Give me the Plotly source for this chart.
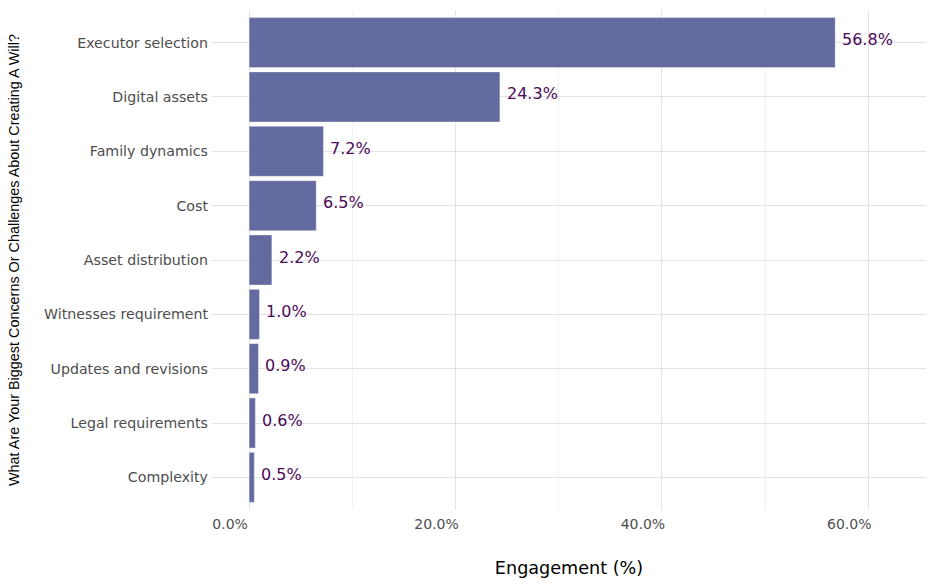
import plotly.graph_objects as go

categories = ["Executor selection", "Digital assets", "Family dynamics", "Cost",
              "Asset distribution", "Witnesses requirement", "Updates and revisions",
              "Legal requirements", "Complexity"]
values = [56.8, 24.3, 7.2, 6.5, 2.2, 1.0, 0.9, 0.6, 0.5]
x_ticks = [0, 20, 40, 60]
x_tick_labels = ["0.0%", "20.0%", "40.0%", "60.0%"]
y_title = "What Are Your Biggest Concerns Or Challenges About Creating A Will?"

FONT = "DejaVu Sans"

fig = go.Figure(go.Bar(
    y=categories,
    x=values,
    orientation="h",
    width=0.92,
    marker=dict(color="#636A9F", line=dict(color="rgba(255,255,255,0.35)", width=1)),
    hoverinfo="x+y",
))

for cat, v in zip(categories, values):
    fig.add_annotation(
        x=v, y=cat, text=f"{v:.1f}%", showarrow=False,
        xanchor="left", yanchor="middle", xshift=5, yshift=3,
        font=dict(family=FONT, size=16, color="#4B0A5A"),
    )

# y-axis title, placed at the left edge of the figure
fig.add_annotation(
    text=y_title, xref="paper", yref="paper", x=-0.2773, y=0.5,
    xanchor="center", yanchor="middle", textangle=-90, showarrow=False,
    font=dict(family="Liberation Sans", size=14.4, color="black"),
)

fig.update_layout(
    width=936, height=586,
    margin=dict(l=212, r=10, t=10, b=76),
    plot_bgcolor="white", paper_bgcolor="white",
    font=dict(family=FONT),
    showlegend=False,
    xaxis=dict(
        range=[-3.6, 65.6],
        tickvals=x_ticks, ticktext=x_tick_labels,
        ticklabelshift=-19, ticklabelstandoff=4,
        tickfont=dict(family=FONT, size=14, color="#4d4d4d"),
        showgrid=True, gridcolor="#e3e3e3", gridwidth=1,
        minor=dict(dtick=10, tick0=0, showgrid=True, gridcolor="#f2f2f2", gridwidth=1),
        zeroline=False, showline=False, ticks="",
        title=dict(text="Engagement (%)", font=dict(family=FONT, size=17.6, color="black"), standoff=30),
    ),
    yaxis=dict(
        categoryorder="array", categoryarray=categories[::-1],
        range=[-0.6, 8.6],
        tickfont=dict(family=FONT, size=14.2, color="#4d4d4d"),
        showgrid=True, gridcolor="#e3e3e3", gridwidth=1,
        zeroline=False, showline=False,
        ticks="", ticklabelstandoff=3,
    ),
    bargap=0.08,
)

fig.write_html("out.html")
